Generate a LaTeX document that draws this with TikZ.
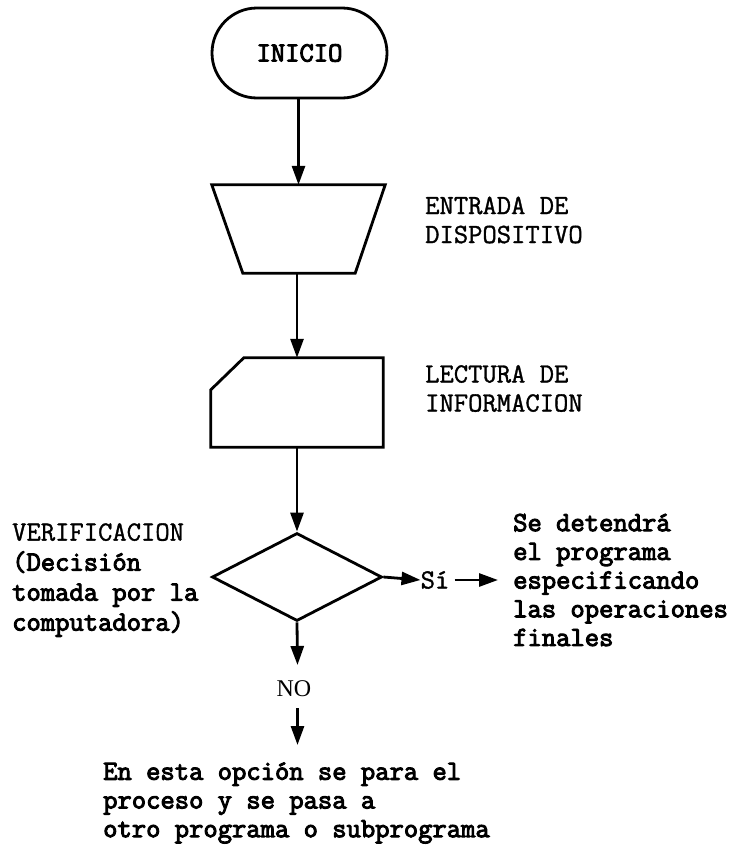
\documentclass[tikz,border=0pt]{standalone}
\usepackage{fontspec}
\setmainfont{Liberation Serif}
\newfontfamily\tyr{Latin Modern Mono}[FakeBold=1.2]
\newfontfamily\tyb{Latin Modern Mono}[FakeBold=3.5]
\usetikzlibrary{arrows.meta,shapes.geometric,shapes.misc}
\tikzset{
  shapeline/.style={draw=black, line width=2.8pt, line join=miter},
  conn/.style={draw=black, line width=2.8pt, -{Triangle[length=19pt,width=13pt]}},
  frame/.style={inner sep=0pt, minimum width=#1},
  lbl/.style={inner sep=0pt, align=left, font=\tyr\fontsize{27.8}{29}\selectfont},
  lblb/.style={inner sep=0pt, align=left, font=\tyb\fontsize{27.8}{28.7}\selectfont},
}
\begin{document}
\begin{tikzpicture}[x=1pt,y=-1pt]
\useasboundingbox (0,0) rectangle (732,846);
% terminal
\node[shapeline, rounded rectangle, rounded rectangle arc length=180, minimum width=175pt, minimum height=90pt, inner sep=0pt,
      font=\tyb\fontsize{27.8}{29}\selectfont] (ini) at (299.5,53) {INICIO};
% trapezoid (entrada de dispositivo)
\node[frame=173pt, minimum height=88pt] (ent) at (298.5,229) {};
\draw[shapeline] (ent.north west) -- (ent.north east) -- ([xshift=-30pt]ent.south east) -- ([xshift=31pt]ent.south west) -- cycle;
\node[lbl, anchor=west] (entl) at (425,220) {ENTRADA DE\\DISPOSITIVO};
% card (lectura de informacion)
\node[frame=172pt, minimum height=89pt] (lec) at (297,402.5) {};
\draw[shapeline] ([xshift=33pt]lec.north west) -- (lec.north east) -- (lec.south east) -- (lec.south west) -- ([yshift=-32pt]lec.north west) -- cycle;
\node[lbl, anchor=west] (lecl) at (425,388.5) {LECTURA DE\\INFORMACION};
% decision
\node[shapeline, diamond, aspect=1.93, minimum width=170pt, minimum height=88pt, inner sep=0pt] (dia) at (297,577) {};
\node[anchor=west, inner sep=0pt, align=left, font=\tyr\fontsize{27.8}{30}\selectfont] (verl) at (12,580)
  {VERIFICACION\\{\tyb (Decisión}\\{\tyb tomada por la}\\{\tyb computadora)}};
% yes branch
\node[lbl, inner sep=0pt] (si) at (435,580) {Sí};
\node[lblb, anchor=west] (sil) at (513,580) {Se detendrá\\el programa\\especificando\\las operaciones\\finales};
% no branch
\node[inner sep=0pt, font=\fontsize{24}{26}\selectfont] (no) at (294,689) {NO};
\coordinate (noa) at (297.5,665);
\coordinate (nob) at (297.5,708);
\coordinate (noc) at (297.5,745);
\node[lblb, anchor=west] (nol) at (103,803) {En esta opción se para el\\proceso y se pasa a\\otro programa o subprograma};
% connectors
\draw[conn] (ini.south -| ent.north) -- (ent.north);
\draw[conn] (ent.south -| lec.north) -- (lec.north);
\draw[conn] (lec.south) -- (dia.north);
\draw[conn] (dia.south) -- (noa);
\draw[conn] (nob) -- (noc);
\draw[conn] (dia.east) -- (si.west);
\draw[conn, shorten <=5pt, shorten >=15pt] (si.east) -- (sil.west |- si.east);
\end{tikzpicture}
\end{document}
